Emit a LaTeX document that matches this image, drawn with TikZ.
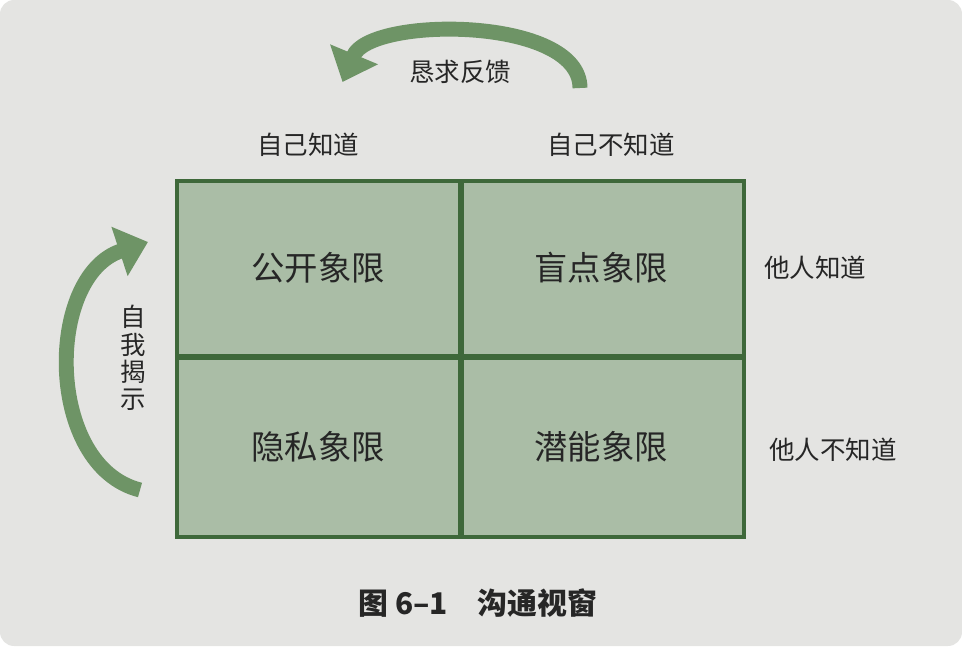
\documentclass[tikz,border=0pt]{standalone}
\usepackage{fontspec}
\setmainfont{Noto Sans CJK SC}
\usetikzlibrary{arrows.meta}
\definecolor{paper}{RGB}{228,228,226}
\definecolor{quadfill}{RGB}{170,189,166}
\definecolor{quadline}{RGB}{62,104,58}
\definecolor{arrowgreen}{RGB}{110,148,102}
\definecolor{ink}{RGB}{38,38,38}
\tikzset{>=latex}
\tikzset{
  quadlabel/.style={text=ink, font=\fontsize{19}{19}\selectfont},
  sidelabel/.style={text=ink, font=\fontsize{14.5}{15.6}\selectfont},
  bigarrow/.style={draw=arrowgreen, line width=8.5pt, -{Triangle[length=0.6cm, width=1.0cm]}},
}

\begin{document}
\begin{tikzpicture}
\useasboundingbox (0,0) rectangle (19.24,12.92);
\fill[white] (0,0) rectangle (19.24,12.92);
\fill[paper, rounded corners=8pt] (0,0) rectangle (19.24,12.92);

% the window
\fill[quadfill] (3.54,2.18) rectangle (14.88,9.30);
\draw[quadline, line width=3.6pt] (9.22,2.18) -- (9.22,9.30);
\draw[quadline, line width=3.6pt] (3.54,5.78) -- (14.88,5.78);
\draw[quadline, line width=2.6pt] (3.54,2.18) rectangle (14.88,9.30);

\node[quadlabel] (open) at (6.36, 7.56) {公开象限};
\node[quadlabel] (blind) at (12.02, 7.56) {盲点象限};
\node[quadlabel] (hidden) at (6.36, 3.98) {隐私象限};
\node[quadlabel] (unknown) at (12.02, 3.98) {潜能象限};

% headings
\node[sidelabel] (selfknown) at (6.16, 10.02) {自己知道};
\node[sidelabel] (selfunknown) at (12.22, 10.02) {自己不知道};
\node[sidelabel] (othersknown) at (16.3, 7.56) {他人知道};
\node[sidelabel] (othersunknown) at (16.66, 3.92) {他人不知道};

% arrows
\draw[bigarrow] (11.6,11.16) .. controls (11.6,12.6) and (7.4,12.6) .. (6.85,11.28);
\node[sidelabel] (feedback) at (9.2, 11.48) {恳求反馈};

\draw[bigarrow] (2.8,3.12) .. controls (0.9,3.6) and (0.9,7.4) .. (2.96,8.08);
\node[sidelabel, align=center] (disclose) at (2.66, 5.76) {自\\我\\揭\\示};

\node[text=ink, font=\fontsize{17}{17}\selectfont\bfseries] (caption) at (9.56, 0.86) {图 6–1\quad 沟通视窗};
\end{tikzpicture}
\end{document}
